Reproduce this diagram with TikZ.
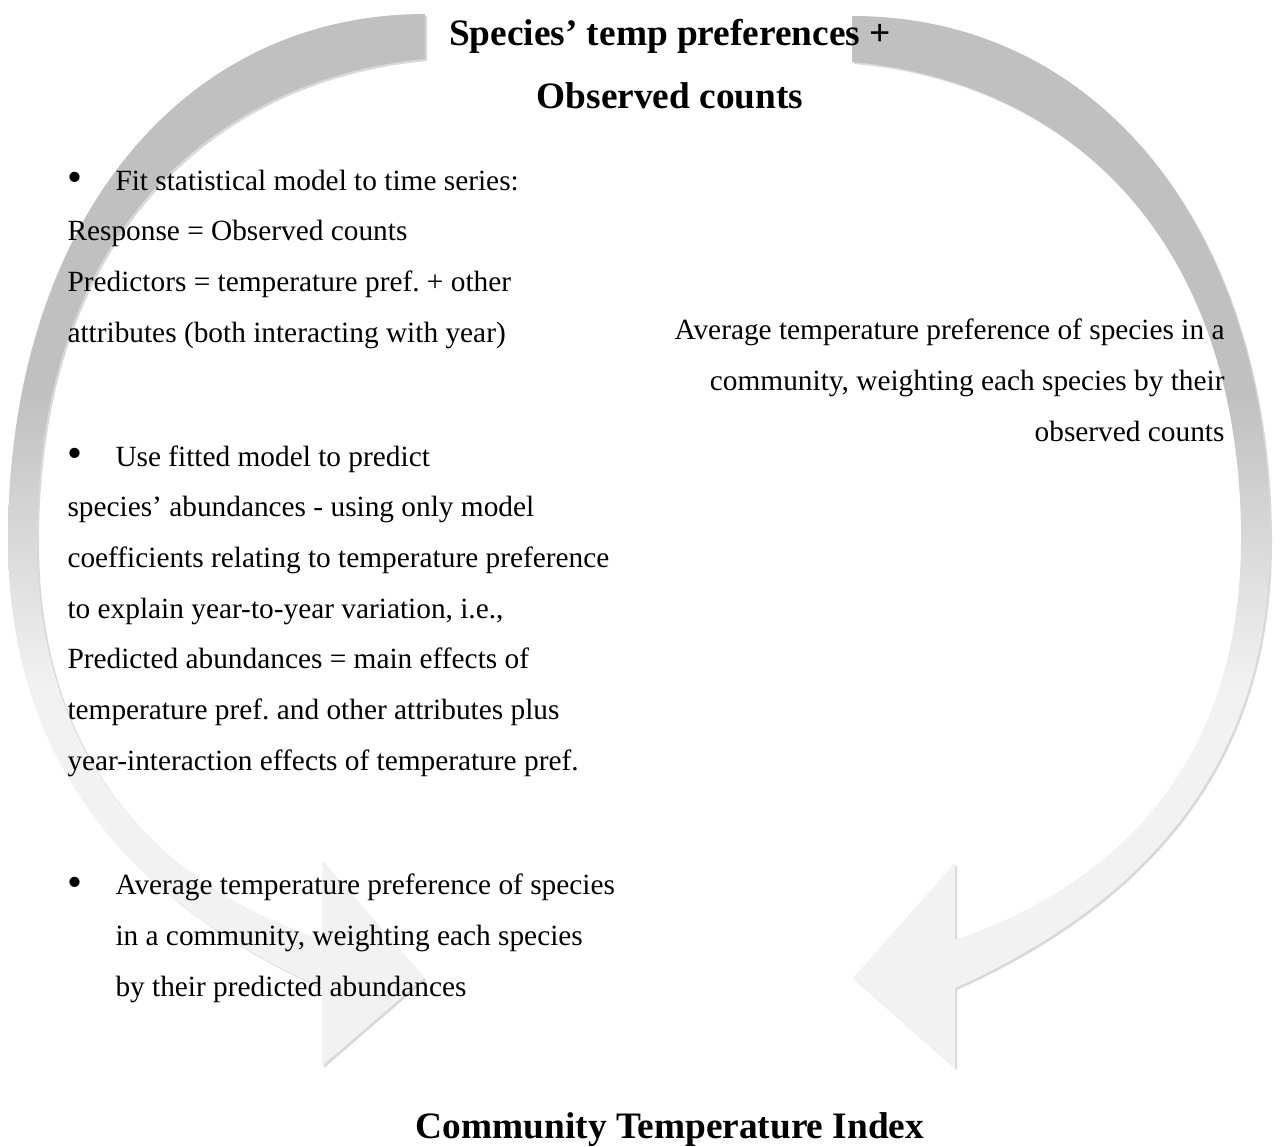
\documentclass[tikz,border=0pt]{standalone}
\usepackage{fontspec}
\setmainfont{Liberation Serif}
\usetikzlibrary{shadows}

\definecolor{fadegrey}{RGB}{192,192,192}
\definecolor{fadelight}{RGB}{242,242,242}
\pgfdeclareverticalshading{arrowfade}{100bp}{color(0bp)=(fadelight); color(43bp)=(fadelight); color(57bp)=(fadegrey); color(100bp)=(fadegrey)}

\newcommand{\stepbullet}{\makebox[36pt][l]{\raisebox{-1pt}{\fontsize{32}{38}\selectfont\textbullet}}}

\tikzset{every picture/.style={line width=0.75pt}}
\tikzset{
  cyclearrow/.style={shading=arrowfade, drop shadow={opacity=0.3, shadow xshift=1.5pt, shadow yshift=-1.5pt}},
  bodytext/.style={font=\fontsize{22}{38}\selectfont\frenchspacing, align=left, inner sep=0pt},
  headtext/.style={font=\fontsize{28}{34}\selectfont\bfseries, inner sep=0pt}
}

\begin{document}
\begin{tikzpicture}[x=0.75pt,y=0.75pt,yscale=-1,xscale=1]
	\useasboundingbox (0,0) rectangle (1280,1146);

	%Shape: Curved Arrow [id:left]
	\shade [cyclearrow] (425,14) .. controls (177,14) and (8,230) .. (8,540) .. controls (8,760) and (127,900) .. (322,988) -- (322,1066) -- (424,978) -- (322,861) -- (322,940) .. controls (147,880) and (37,750) .. (37,540) .. controls (37,230) and (217,78) .. (425,59) -- cycle ;
	%Shape: Curved Arrow [id:right]
	\shade [cyclearrow] (852,16) .. controls (1100,16) and (1270,230) .. (1270,540) .. controls (1270,760) and (1150,900) .. (955,988) -- (955,1068) -- (853,978) -- (955,863) -- (955,940) .. controls (1130,880) and (1241,750) .. (1241,540) .. controls (1241,230) and (1060,80) .. (852,62) -- cycle ;

	% Text Node
	\node [headtext, anchor=base] (source) at (670,45) {Species’ temp preferences +};
	% Text Node
	\node [headtext, anchor=base] (counts) at (670,108) {Observed counts};
	% Text Node
	\node [headtext, anchor=base] (cti) at (670,1138) {Community Temperature Index};

	% Text Node
	\node [bodytext, anchor=base west] (fitstep) at (67,342) {\stepbullet Fit statistical model to time series:\\Response = Observed counts\\Predictors = temperature pref. + other\\attributes (both interacting with year)};
	% Text Node
	\node [bodytext, anchor=base west] (predictstep) at (67,770) {\stepbullet Use fitted model to predict\\species’ abundances - using only model\\coefficients relating to temperature preference\\to explain year-to-year variation, i.e.,\\Predicted abundances = main effects of\\temperature pref. and other attributes plus\\year-interaction effects of temperature pref.};
	% Text Node
	\node [bodytext, anchor=base west] (predictedcti) at (115,996) {\llap{\stepbullet}Average temperature preference of species\\in a community, weighting each species\\by their predicted abundances};
	% Text Node
	\node [bodytext, align=right, anchor=base east] (observedcti) at (1225,441) {Average temperature preference of species in a\\community, weighting each species by their\\observed counts};

\end{tikzpicture}
\end{document}
